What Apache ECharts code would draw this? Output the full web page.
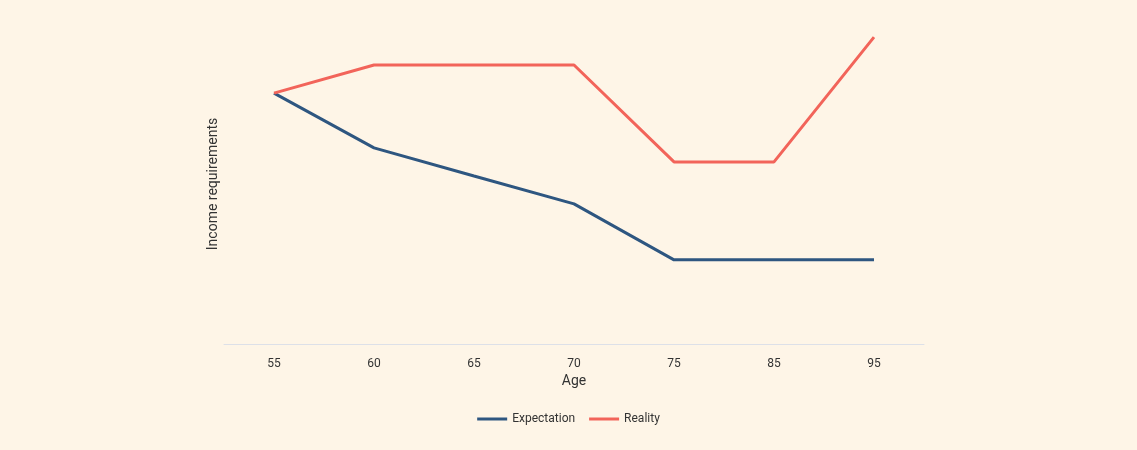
<!DOCTYPE html>
<html>
<head>
<meta charset="utf-8">
<script src="https://cdn.jsdelivr.net/npm/echarts@6/dist/echarts.min.js"></script>
<style>html,body{margin:0;padding:0;background:#fef5e7;}#chart{width:1137px;height:450px;}</style>
</head>
<body>
<div id="chart"></div>
<script>
// Age categories and income requirement levels (relative, 0-100)
var ages = ['55', '60', '65', '70', '75', '85', '95'];
var expectation = [78.4, 61.3, 52.5, 43.8, 26.3, 26.3, 26.3];
var reality = [78.4, 87.2, 87.2, 87.2, 56.9, 56.9, 95.9];

var chart = echarts.init(document.getElementById('chart'));
var option = {
    backgroundColor: '#fef5e7',
    textStyle: { fontFamily: 'Roboto' },
    grid: { left: 224, right: 213, top: 24, bottom: 106 },
    legend: {
        bottom: 20,
        icon: 'path://M0,0H30V3H0Z',
        itemWidth: 30,
        itemHeight: 3,
        itemGap: 14,
        textStyle: { color: '#333', fontSize: 12 },
        data: ['Expectation', 'Reality']
    },
    xAxis: {
        type: 'category',
        data: ages,
        name: 'Age',
        nameLocation: 'middle',
        nameGap: 30,
        nameTextStyle: { fontSize: 14, color: '#333' },
        axisLine: { lineStyle: { color: '#dde0e8' } },
        axisTick: { show: false },
        axisLabel: { color: '#333', fontSize: 12, margin: 14 }
    },
    yAxis: {
        type: 'value',
        min: 0,
        max: 100,
        name: 'Income requirements',
        nameLocation: 'middle',
        nameGap: 4,
        nameTextStyle: { fontSize: 14, color: '#333', padding: [0, 0, 0, 0] },
        nameRotate: 90,
        axisLine: { show: false },
        axisTick: { show: false },
        axisLabel: { show: false },
        splitLine: { show: false }
    },
    series: [{
        name: 'Expectation',
        type: 'line',
        data: expectation,
        color: '#2e5680',
        symbol: 'none',
        lineStyle: { width: 3 }
    }, {
        name: 'Reality',
        type: 'line',
        data: reality,
        color: '#f2645a',
        symbol: 'none',
        lineStyle: { width: 3 }
    }]
};
chart.setOption(option);
</script>
</body>
</html>
